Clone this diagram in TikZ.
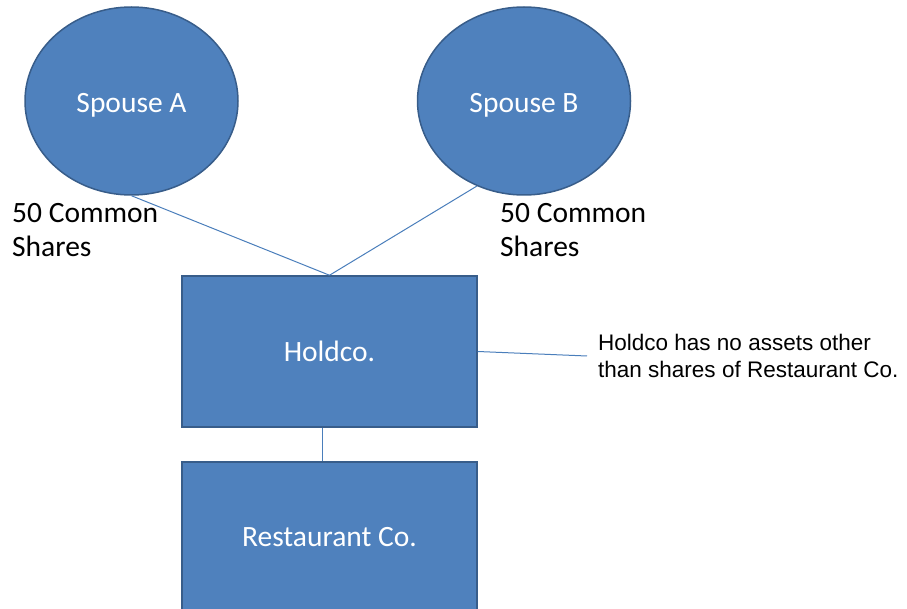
\documentclass[tikz,border=0pt]{standalone}
\usepackage{fontspec}
\newfontfamily\calibri{Carlito}
\newfontfamily\arialf{Liberation Sans}
\usetikzlibrary{shapes.geometric}
\definecolor{boxfill}{HTML}{4F81BD}
\definecolor{boxedge}{HTML}{385D8A}
\definecolor{linkblue}{HTML}{4A7EBB}
\begin{document}
\begin{tikzpicture}[x=1pt,y=-1pt,
  entity/.style={fill=boxfill, draw=boxedge, line width=1.5pt, text=white,
    font=\calibri\fontsize{29.5}{34}\selectfont, inner sep=0pt},
  person/.style={entity, ellipse, minimum width=213pt, minimum height=188pt},
  personname/.style={text=white, font=\calibri\fontsize{29.5}{34}\selectfont,
    inner sep=0pt, yshift=-4pt},
  company/.style={entity, rectangle, minimum width=295pt, minimum height=151pt},
  link/.style={draw=linkblue, line width=1pt},
  sharelabel/.style={font=\calibri\fontsize{29.5}{34}\selectfont, align=left,
    anchor=base west, inner sep=0pt},
  note/.style={font=\arialf\fontsize{22.5}{27}\selectfont, align=left,
    anchor=west, inner sep=0pt}]
\clip (0,0) rectangle (907,609);
\useasboundingbox (0,0) rectangle (907,609);

% owners
\node[person, label={[personname, name=spAname]center:Spouse A}] (spA) at (131.5,101) {};
\node[person, label={[personname, name=spBname]center:Spouse B}] (spB) at (524,101) {};

% companies
\node[company] (hold) at (329.5,351.5) {Holdco.};
\node[company] (rest) at (329.5,537.5) {Restaurant Co.};

% share labels (base anchor sits on the last line)
\node[sharelabel] (labA) at (12,257) {50 Common\\Shares};
\node[sharelabel] (labB) at (500,257) {50 Common\\Shares};

% side note
\node[note] (memo) at (598,356) {Holdco has no assets other\\than shares of Restaurant Co.};

% connectors
\draw[link] (spA.south) -- (hold.north);
\draw[link] (spB.241) -- (hold.north);
\draw[link] ([xshift=-7.5pt]hold.south) -- ([xshift=-7.5pt]rest.north);
\draw[link] (hold.east) -- ([xshift=-11pt]memo.west);
\end{tikzpicture}
\end{document}
